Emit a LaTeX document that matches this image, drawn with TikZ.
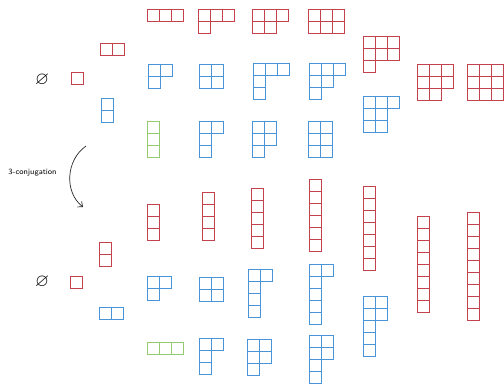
\documentclass[tikz,border=0pt]{standalone}
\usepackage{amsmath,amssymb}
\usepackage{tikz}
\usetikzlibrary{arrows.meta}
\definecolor{boxred}{RGB}{195,66,76}
\definecolor{boxblue}{RGB}{72,148,214}
\definecolor{boxgreen}{RGB}{150,202,110}
% young diagram: style, x and y of top-left corner, row lengths
\newcommand{\ydiag}[4]{%
  \draw[#1] foreach \rowlen [count=\rowno from 0] in {#4} {
    foreach \colno in {1,...,\rowlen} { (#2.5+\colno*12-12,#3.5+\rowno*12) rectangle ++(12,12) }
  };
}

\begin{document}
\begin{tikzpicture}[
  x=1bp,y=-1bp,
  rcell/.style={draw=boxred,line width=1bp},
  bcell/.style={draw=boxblue,line width=1bp},
  gcell/.style={draw=boxgreen,line width=1bp},
  empty/.style={font=\fontsize{18}{18}\selectfont,inner sep=0pt},
  conj/.style={-{Straight Barb[length=4pt,width=7pt]},draw=black!85,line width=0.7pt}
]
\useasboundingbox (0,0) rectangle (504,383);
% ---------- top half
\node[empty] (emptytop) at (42,80) {$\varnothing$};
\ydiag{rcell}{71}{72}{1}
\ydiag{rcell}{100}{43}{2}
\ydiag{bcell}{101}{98}{1,1}
\ydiag{rcell}{147}{9}{3}
\ydiag{bcell}{148}{64}{2,1}
\ydiag{gcell}{147}{121}{1,1,1}
\ydiag{rcell}{198}{9}{3,1}
\ydiag{bcell}{199}{64}{2,2}
\ydiag{bcell}{199}{121}{2,1,1}
\ydiag{rcell}{252}{9}{3,2}
\ydiag{bcell}{253}{63}{3,1,1}
\ydiag{bcell}{252}{121}{2,2,1}
\ydiag{rcell}{308}{9}{3,3}
\ydiag{bcell}{309}{63}{3,2,1}
\ydiag{bcell}{308}{121}{2,2,2}
\ydiag{rcell}{363}{36}{3,3,1}
\ydiag{bcell}{363}{96}{3,2,2}
\ydiag{rcell}{417}{64}{3,3,2}
\ydiag{rcell}{467}{64}{3,3,3}
% ---------- conjugation arrow
\coordinate (conjstart) at (86,146);
\coordinate (conjend) at (83,207);
\draw[conj] (conjstart) .. controls (66,160) and (64,192) .. (conjend);
\node[font=\sffamily\fontsize{8}{9}\selectfont] (conjlabel) at (32.5,173) {3-conjugation};
% ---------- bottom half
\node[empty] (emptybot) at (42,282) {$\varnothing$};
\ydiag{rcell}{70}{276}{1}
\ydiag{rcell}{99}{242}{1,1}
\ydiag{bcell}{99}{307}{2}
\ydiag{rcell}{147}{204}{1,1,1}
\ydiag{bcell}{147}{276}{2,1}
\ydiag{gcell}{147}{342}{3}
\ydiag{rcell}{202}{192}{1,1,1,1}
\ydiag{bcell}{199}{277}{2,2}
\ydiag{bcell}{199}{338}{2,1,1}
\ydiag{rcell}{251}{188}{1,1,1,1,1}
\ydiag{bcell}{248}{269}{2,1,1,1}
\ydiag{bcell}{247}{339}{2,2,1}
\ydiag{rcell}{309}{179}{1,1,1,1,1,1}
\ydiag{bcell}{309}{264}{2,1,1,1,1}
\ydiag{bcell}{309}{335}{2,2,1,1}
\ydiag{rcell}{363}{186}{1,1,1,1,1,1,1}
\ydiag{bcell}{363}{296}{2,2,1,1,1}
\ydiag{rcell}{417}{216}{1,1,1,1,1,1,1,1}
\ydiag{rcell}{467}{212}{1,1,1,1,1,1,1,1,1}
\end{tikzpicture}
\end{document}
